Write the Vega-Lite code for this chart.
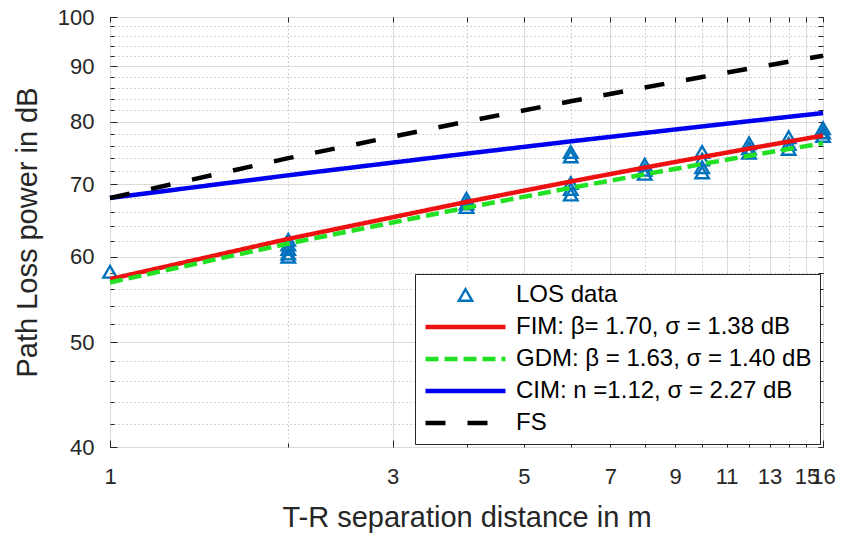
{
  "$schema": "https://vega.github.io/schema/vega-lite/v6.json",
  "width": 713,
  "height": 430,
  "autosize": {"type": "none"},
  "padding": {"left": 110, "top": 17, "right": 18, "bottom": 87},
  "background": "white",
  "config": {
    "view": {"stroke": "#262626", "strokeWidth": 1},
    "font": "Liberation Sans",
    "axis": {
      "labelFont": "Liberation Sans",
      "titleFont": "Liberation Sans",
      "labelColor": "#262626",
      "titleColor": "#262626",
      "labelFontSize": 22,
      "titleFontSize": 29,
      "titleFontWeight": "normal",
      "domain": false,
      "tickColor": "#262626",
      "gridColor": "#dadada",
      "gridOpacity": 1,
      "labelOverlap": false,
      "labelBound": false,
      "labelFlush": false
    },
    "legend": {
      "orient": "bottom-right",
      "offset": 3,
      "padding": 8,
      "strokeColor": "#262626",
      "fillColor": "white",
      "cornerRadius": 0,
      "labelFont": "Liberation Sans",
      "labelFontSize": 24,
      "labelColor": "black",
      "labelLimit": 400,
      "labelOffset": 8,
      "symbolSize": 6400,
      "symbolStrokeWidth": 4,
      "clipHeight": 26,
      "rowPadding": 6
    }
  },
  "datasets": {
    "los": [
      {"series": "LOS data", "d": 1, "pl": 58.1},
      {"series": "LOS data", "d": 2, "pl": 62.2},
      {"series": "LOS data", "d": 2, "pl": 61.6},
      {"series": "LOS data", "d": 2, "pl": 61.0},
      {"series": "LOS data", "d": 2, "pl": 60.4},
      {"series": "LOS data", "d": 2, "pl": 60.0},
      {"series": "LOS data", "d": 4, "pl": 67.9},
      {"series": "LOS data", "d": 4, "pl": 67.2},
      {"series": "LOS data", "d": 4, "pl": 66.7},
      {"series": "LOS data", "d": 6, "pl": 75.0},
      {"series": "LOS data", "d": 6, "pl": 74.3},
      {"series": "LOS data", "d": 6, "pl": 70.2},
      {"series": "LOS data", "d": 6, "pl": 69.3},
      {"series": "LOS data", "d": 6, "pl": 68.5},
      {"series": "LOS data", "d": 8, "pl": 73.0},
      {"series": "LOS data", "d": 8, "pl": 72.2},
      {"series": "LOS data", "d": 8, "pl": 71.6},
      {"series": "LOS data", "d": 10, "pl": 75.0},
      {"series": "LOS data", "d": 10, "pl": 73.8},
      {"series": "LOS data", "d": 10, "pl": 72.6},
      {"series": "LOS data", "d": 10, "pl": 71.8},
      {"series": "LOS data", "d": 12, "pl": 76.4},
      {"series": "LOS data", "d": 12, "pl": 75.6},
      {"series": "LOS data", "d": 12, "pl": 74.9},
      {"series": "LOS data", "d": 14, "pl": 77.4},
      {"series": "LOS data", "d": 14, "pl": 76.3},
      {"series": "LOS data", "d": 14, "pl": 75.5},
      {"series": "LOS data", "d": 16, "pl": 78.9},
      {"series": "LOS data", "d": 16, "pl": 78.2},
      {"series": "LOS data", "d": 16, "pl": 77.6}
    ],
    "lines": [
      {"series": "FIM: β= 1.70, σ = 1.38 dB", "d": 1, "pl": 57.2},
      {"series": "FIM: β= 1.70, σ = 1.38 dB", "d": 2, "pl": 62.32},
      {"series": "FIM: β= 1.70, σ = 1.38 dB", "d": 4, "pl": 67.43},
      {"series": "FIM: β= 1.70, σ = 1.38 dB", "d": 6, "pl": 70.43},
      {"series": "FIM: β= 1.70, σ = 1.38 dB", "d": 8, "pl": 72.55},
      {"series": "FIM: β= 1.70, σ = 1.38 dB", "d": 10, "pl": 74.2},
      {"series": "FIM: β= 1.70, σ = 1.38 dB", "d": 12, "pl": 75.55},
      {"series": "FIM: β= 1.70, σ = 1.38 dB", "d": 14, "pl": 76.68},
      {"series": "FIM: β= 1.70, σ = 1.38 dB", "d": 16, "pl": 77.67},
      {"series": "GDM: β = 1.63, σ = 1.40 dB", "d": 1, "pl": 56.8},
      {"series": "GDM: β = 1.63, σ = 1.40 dB", "d": 2, "pl": 61.71},
      {"series": "GDM: β = 1.63, σ = 1.40 dB", "d": 4, "pl": 66.61},
      {"series": "GDM: β = 1.63, σ = 1.40 dB", "d": 6, "pl": 69.48},
      {"series": "GDM: β = 1.63, σ = 1.40 dB", "d": 8, "pl": 71.52},
      {"series": "GDM: β = 1.63, σ = 1.40 dB", "d": 10, "pl": 73.1},
      {"series": "GDM: β = 1.63, σ = 1.40 dB", "d": 12, "pl": 74.39},
      {"series": "GDM: β = 1.63, σ = 1.40 dB", "d": 14, "pl": 75.48},
      {"series": "GDM: β = 1.63, σ = 1.40 dB", "d": 16, "pl": 76.43},
      {"series": "CIM: n =1.12, σ = 2.27 dB", "d": 1, "pl": 68.0},
      {"series": "CIM: n =1.12, σ = 2.27 dB", "d": 2, "pl": 71.37},
      {"series": "CIM: n =1.12, σ = 2.27 dB", "d": 4, "pl": 74.74},
      {"series": "CIM: n =1.12, σ = 2.27 dB", "d": 6, "pl": 76.72},
      {"series": "CIM: n =1.12, σ = 2.27 dB", "d": 8, "pl": 78.11},
      {"series": "CIM: n =1.12, σ = 2.27 dB", "d": 10, "pl": 79.2},
      {"series": "CIM: n =1.12, σ = 2.27 dB", "d": 12, "pl": 80.09},
      {"series": "CIM: n =1.12, σ = 2.27 dB", "d": 14, "pl": 80.84},
      {"series": "CIM: n =1.12, σ = 2.27 dB", "d": 16, "pl": 81.49},
      {"series": "FS", "d": 1, "pl": 68.0},
      {"series": "FS", "d": 2, "pl": 74.02},
      {"series": "FS", "d": 4, "pl": 80.04},
      {"series": "FS", "d": 6, "pl": 83.56},
      {"series": "FS", "d": 8, "pl": 86.06},
      {"series": "FS", "d": 10, "pl": 88.0},
      {"series": "FS", "d": 12, "pl": 89.58},
      {"series": "FS", "d": 14, "pl": 90.92},
      {"series": "FS", "d": 16, "pl": 92.08}
    ]
  },
  "layer": [
    {
      "data": {"name": "los"},
      "mark": {"type": "point", "filled": false, "opacity": 1},
      "encoding": {
        "x": {
          "field": "d", "type": "quantitative",
          "scale": {"type": "log", "domain": [1, 16], "nice": false, "zero": false},
          "axis": {"orient": "bottom", "values": [2, 4, 6, 8, 10, 12, 14], "labels": false, "tickSize": -4, "grid": true, "gridDash": [1, 3], "gridColor": "#a8a8a8", "title": null}
        },
        "y": {
          "field": "pl", "type": "quantitative",
          "scale": {"type": "log", "domain": [40, 100], "nice": false, "zero": false},
          "axis": {"orient": "left", "values": [42, 44, 46, 48, 52, 54, 56, 58, 62, 64, 66, 68, 72, 74, 76, 78, 82, 84, 86, 88, 92, 94, 96, 98], "labels": false, "tickSize": -4, "grid": true, "gridDash": [1, 3], "gridColor": "#a8a8a8", "title": null}
        },
        "shape": {
          "field": "series", "type": "nominal",
          "scale": {
            "type": "ordinal",
            "domain": ["LOS data", "FIM: β= 1.70, σ = 1.38 dB", "GDM: β = 1.63, σ = 1.40 dB", "CIM: n =1.12, σ = 2.27 dB", "FS"],
            "range": ["triangle-up", "stroke", "stroke", "stroke", "stroke"]
          },
          "legend": {"title": null}
        },
        "size": {
          "field": "series", "type": "nominal",
          "scale": {
            "type": "ordinal",
            "domain": ["LOS data", "FIM: β= 1.70, σ = 1.38 dB", "GDM: β = 1.63, σ = 1.40 dB", "CIM: n =1.12, σ = 2.27 dB", "FS"],
            "range": [180, 6400, 6400, 6400, 6400]
          },
          "legend": {"title": null}
        },
        "strokeWidth": {
          "field": "series", "type": "nominal",
          "scale": {
            "type": "ordinal",
            "domain": ["LOS data", "FIM: β= 1.70, σ = 1.38 dB", "GDM: β = 1.63, σ = 1.40 dB", "CIM: n =1.12, σ = 2.27 dB", "FS"],
            "range": [2.4, 4.5, 4.5, 4.5, 4.5]
          },
          "legend": {"title": null}
        },
        "color": {
          "field": "series", "type": "nominal",
          "scale": {
            "domain": ["LOS data", "FIM: β= 1.70, σ = 1.38 dB", "GDM: β = 1.63, σ = 1.40 dB", "CIM: n =1.12, σ = 2.27 dB", "FS"],
            "range": ["#0072BD", "#EE1111", "#22E022", "#0000F0", "#000000"]
          },
          "legend": {"title": null}
        }
      }
    },
    {
      "data": {"name": "lines"},
      "mark": {"type": "line", "strokeWidth": 4.5},
      "encoding": {
        "x": {
          "field": "d", "type": "quantitative",
          "axis": {"orient": "bottom", "values": [1, 3, 5, 7, 9, 11, 13, 15, 16], "tickSize": -7, "labelPadding": 26, "grid": true, "title": "T-R separation distance in m", "titlePadding": 16}
        },
        "y": {
          "field": "pl", "type": "quantitative",
          "axis": {"orient": "left", "values": [40, 50, 60, 70, 80, 90, 100], "tickSize": -7, "labelPadding": 23, "grid": true, "title": "Path Loss power in dB", "titlePadding": 15}
        },
        "color": {"field": "series", "type": "nominal", "legend": {"title": null}},
        "strokeDash": {
          "field": "series", "type": "nominal",
          "scale": {
            "domain": ["LOS data", "FIM: β= 1.70, σ = 1.38 dB", "GDM: β = 1.63, σ = 1.40 dB", "CIM: n =1.12, σ = 2.27 dB", "FS"],
            "range": [[1, 0], [1, 0], [13, 6], [1, 0], [20, 22]]
          },
          "legend": {"title": null}
        }
      }
    },
    {
      "data": {"name": "los"},
      "mark": {"type": "point", "opacity": 0},
      "encoding": {
        "x": {
          "field": "d", "type": "quantitative",
          "axis": {"orient": "top", "values": [1, 2, 3, 4, 5, 6, 7, 8, 9, 10, 11, 12, 13, 14, 15, 16], "labels": false, "tickSize": -5, "grid": false, "title": null}
        },
        "y": {
          "field": "pl", "type": "quantitative",
          "axis": {"orient": "right", "values": [40, 42, 44, 46, 48, 50, 52, 54, 56, 58, 60, 62, 64, 66, 68, 70, 72, 74, 76, 78, 80, 82, 84, 86, 88, 90, 92, 94, 96, 98, 100], "labels": false, "tickSize": -5, "grid": false, "title": null}
        }
      }
    }
  ],
  "resolve": {"axis": {"x": "independent", "y": "independent"}}
}
